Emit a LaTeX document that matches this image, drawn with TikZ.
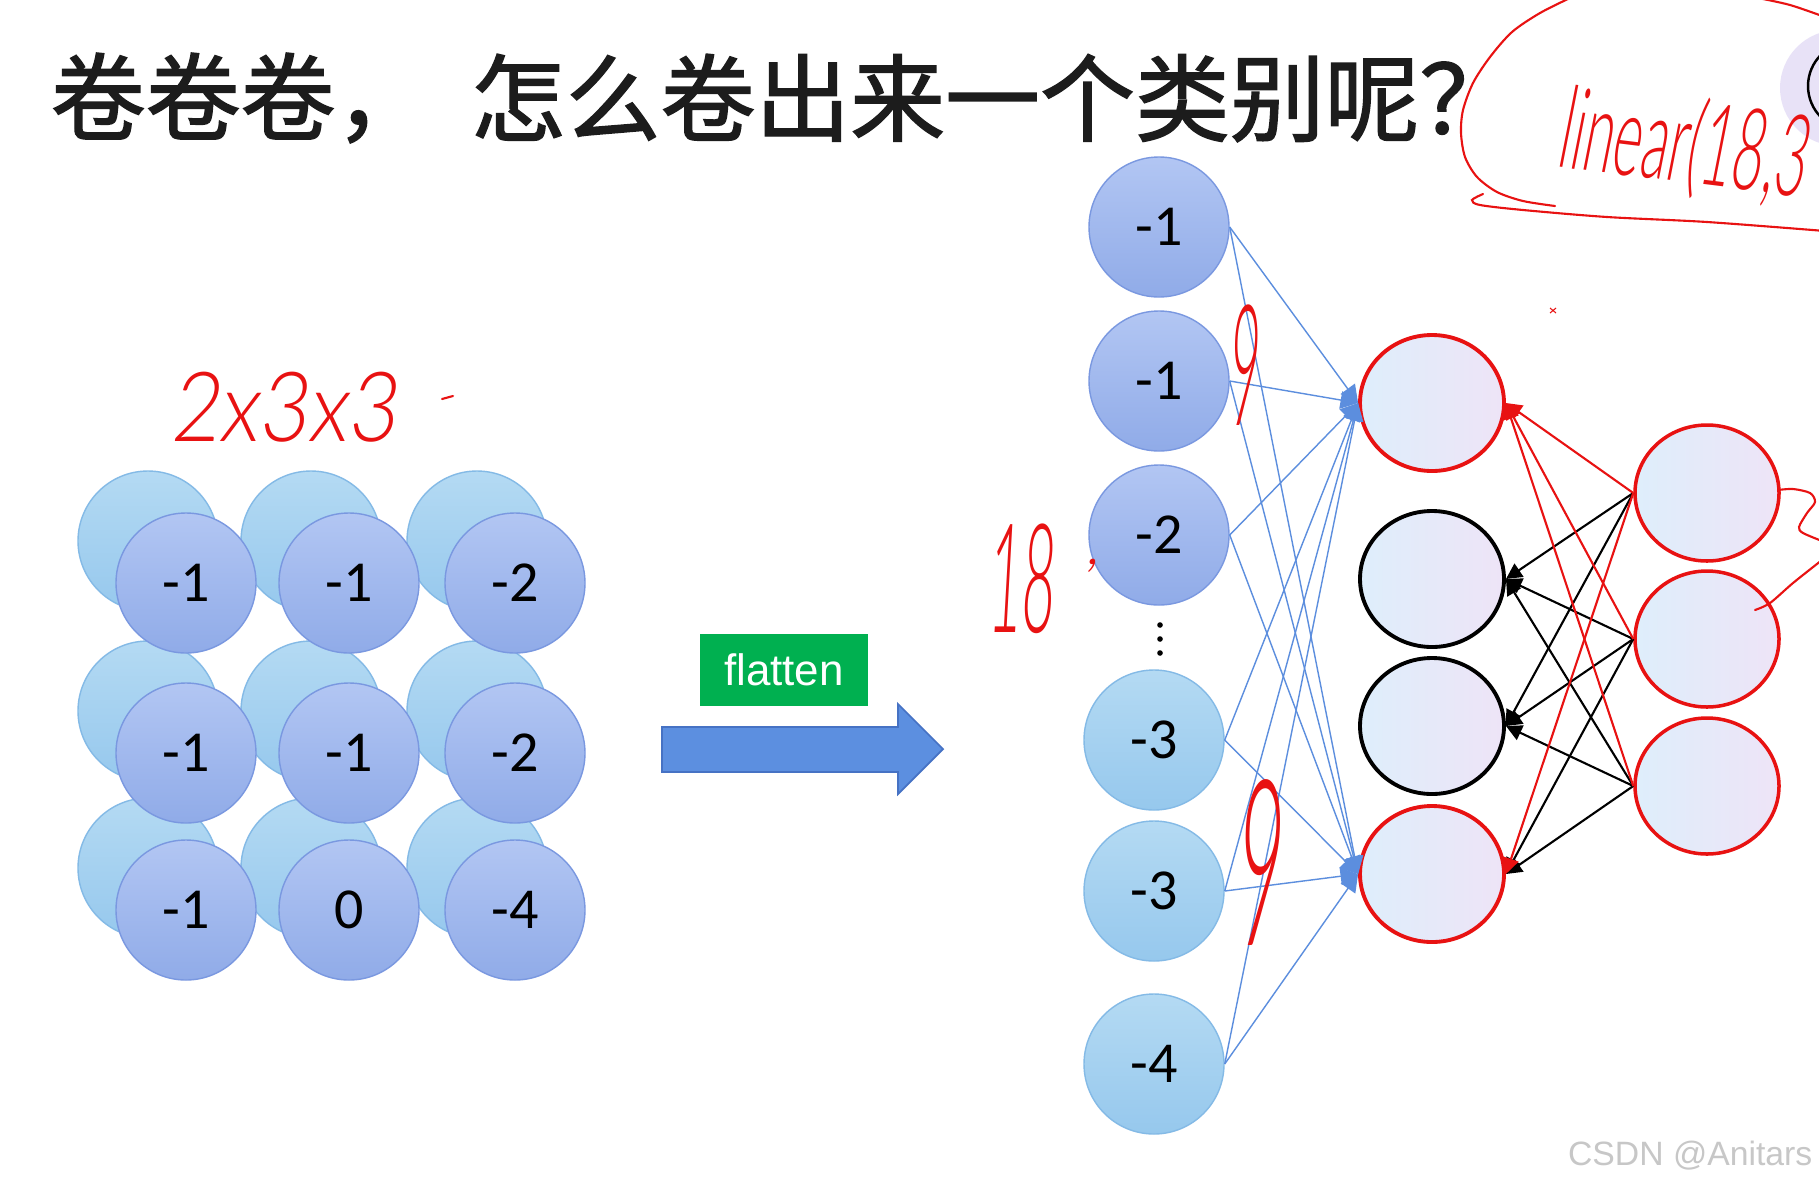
\documentclass[tikz,border=0pt]{standalone}
\usepackage{fontspec}
\usepackage{graphicx}
\usetikzlibrary{positioning, arrows.meta, shapes.geometric}
\setmainfont{Liberation Serif}
\newfontfamily\cjk{Noto Sans CJK SC}[FakeBold=1.5]
\newfontfamily\numfont{Carlito}
\newfontfamily\labelfont{Liberation Sans}
\IfFontExistsTF{Lato Light}
  {\newfontfamily\handfont{Lato Light}[FakeSlant=0.15]}
  {\IfFontExistsTF{Lato Thin}
     {\newfontfamily\handfont{Lato Thin}[FakeSlant=0.15, FakeBold=1]}
     {\newfontfamily\handfont{Liberation Sans}[FakeSlant=0.15]}}
\definecolor{titleInk}{RGB}{28, 28, 28}
\definecolor{frontTop}{RGB}{178, 198, 243}
\definecolor{frontBot}{RGB}{144, 171, 232}
\definecolor{frontEdge}{RGB}{122, 152, 224}
\definecolor{backTop}{RGB}{180, 218, 243}
\definecolor{backBot}{RGB}{150, 200, 237}
\definecolor{backEdge}{RGB}{132, 186, 230}
\definecolor{hidA}{RGB}{222, 238, 251}
\definecolor{hidB}{RGB}{238, 228, 247}
\definecolor{lineBlue}{RGB}{92, 142, 222}
\definecolor{inkRed}{RGB}{232, 18, 18}
\definecolor{flatGreen}{RGB}{0, 176, 80}
\definecolor{arrowBlue}{RGB}{92, 143, 224}
\definecolor{arrowEdge}{RGB}{70, 114, 196}
\definecolor{padLilac}{RGB}{232, 226, 247}

\begin{document}
\begin{tikzpicture}[
    back/.style={circle, minimum size=1.40cm, inner sep=0, draw=backEdge,
      line width=0.4pt, top color=backTop, bottom color=backBot},
    front/.style={circle, minimum size=1.40cm, inner sep=0, draw=frontEdge,
      line width=0.4pt, top color=frontTop, bottom color=frontBot,
      font=\numfont\fontsize{16.5}{18}\selectfont},
    sky/.style={front, draw=backEdge, top color=backTop, bottom color=backBot},
    neuron/.style={ellipse, minimum width=1.44cm, minimum height=1.36cm,
      inner sep=0, left color=hidA, right color=hidB, line width=1.1pt},
    inedge/.style={color=lineBlue, line width=0.4pt,
      -{Triangle[length=5pt, width=5pt]}},
    redge/.style={color=inkRed, line width=0.6pt,
      -{Triangle[length=4.5pt, width=4.5pt]}},
    bedge/.style={color=black, line width=0.6pt,
      -{Triangle[length=4.5pt, width=4.5pt]}},
    hand/.style={text=inkRed, inner sep=0},
    pen/.style={inkRed, line width=0.6pt, line cap=round}
  ]
  \path[use as bounding box] (0,0) rectangle (18.19,-11.86);
  \clip (0,0) rectangle (18.19,-11.86);
  \fill[white] (0,0) rectangle (18.19,-11.86);

  %% ── title ───────────────────────────────────────────────────────
  \node[anchor=west, inner sep=0, text=titleInk,
        font=\cjk\fontsize{27}{30}\selectfont] (title1) at (0.50,-0.98) {卷卷卷，};
  \node[anchor=west, inner sep=0, text=titleInk,
        font=\cjk\fontsize{27}{30}\selectfont] (title2) at (4.70,-0.98) {怎么卷出来一个类别呢？};

  %% ── 2x3x3 feature map (left) ────────────────────────────────────
  % back layer first, offset up-left
  \foreach \x/\y [count=\k] in {1.86/5.83, 3.49/5.83, 5.15/5.83,
                                1.86/7.53, 3.49/7.53, 5.15/7.53,
                                1.86/9.10, 3.49/9.10, 5.15/9.10}
    \node[back] (b\k) at (\x-0.38,-\y+0.42) {};
  % front layer with values
  \foreach \x/\y/\v [count=\k] in {1.86/5.83/-1, 3.49/5.83/-1, 5.15/5.83/-2,
                                   1.86/7.53/-1, 3.49/7.53/-1, 5.15/7.53/-2,
                                   1.86/9.10/-1, 3.49/9.10/0,  5.15/9.10/-4}
    \node[front] (f\k) at (\x,-\y) {\v};

  %% ── flatten ─────────────────────────────────────────────────────
  \node[fill=flatGreen, minimum width=1.68cm, minimum height=0.72cm, text=white,
        font=\labelfont\fontsize{12.5}{14}\selectfont] (flat) at (7.84,-6.70) {flatten};
  \fill[arrowBlue, draw=arrowEdge, line width=0.5pt]
    (6.62,-7.27) -- (8.98,-7.27) -- (8.98,-7.04) -- (9.43,-7.49)
    -- (8.98,-7.94) -- (8.98,-7.72) -- (6.62,-7.72) -- cycle;

  %% ── input column ────────────────────────────────────────────────
  \node[front] (in1) at (11.59,-2.27) {-1};
  \node[front] (in2) at (11.59,-3.81) {-1};
  \node[front] (in3) at (11.59,-5.35) {-2};
  \node[sky]   (in4) at (11.54,-7.40) {-3};
  \node[sky]   (in5) at (11.54,-8.91) {-3};
  \node[sky]   (in6) at (11.54,-10.64) {-4};
  \foreach \d in {6.25,6.39,6.53}
    \fill (11.60,-\d) circle (0.028);

  %% ── hidden + output layers ──────────────────────────────────────
  \node[neuron, draw=inkRed] (hid1) at (14.32,-4.03) {};
  \node[neuron, draw=black]  (hid2) at (14.32,-5.79) {};
  \node[neuron, draw=black]  (hid3) at (14.32,-7.26) {};
  \node[neuron, draw=inkRed] (hid4) at (14.32,-8.74) {};
  \node[neuron, draw=inkRed, line width=1pt] (out1) at (17.07,-4.93) {};
  \node[neuron, draw=inkRed, line width=1pt] (out2) at (17.07,-6.39) {};
  \node[neuron, draw=inkRed, line width=1pt] (out3) at (17.07,-7.86) {};

  % input -> hidden
  \foreach \i in {1,...,6} {
    \draw[inedge] (in\i.east) -- (hid1.west);
    \draw[inedge] (in\i.east) -- (hid4.west);
  }
  % output -> hidden
  \foreach \o in {1,2,3}
    \foreach \h in {2,3}
      \draw[bedge] (out\o.west) -- (hid\h.east);
  \draw[bedge] (out2.west) -- (hid4.east);
  \draw[bedge] (out3.west) -- (hid4.east);
  \foreach \o in {1,2,3}
    \draw[redge] (out\o.west) -- (hid1.east);
  \draw[redge] (out1.west) -- (hid4.east);

  %% ── top-right pad (cut off) ─────────────────────────────────────
  \fill[padLilac] (18.38,-0.88) circle (0.58);
  \draw[black, line width=0.7pt] (18.52,-0.86) circle (0.44);

  %% ── handwritten notes ───────────────────────────────────────────
  \node[hand, font=\handfont\fontsize{24}{26}\selectfont] (dims) at (2.83,-4.07)
    {\scalebox{1}[1.15]{2x3x3}};
  \draw[pen] (4.42,-3.99) -- (4.53,-3.96);
  \node[hand, font=\handfont\fontsize{16}{18}\selectfont] (nin) at (10.20,-5.79)
    {\scalebox{1}[2.7]{18}};
  \node[hand, font=\handfont\fontsize{18}{20}\selectfont] (nincomma) at (10.92,-5.66) {,};
  \node[hand, font=\handfont\fontsize{16}{18}\selectfont] (nine1) at (12.43,-3.65)
    {\scalebox{0.9}[3.0]{9}};
  \node[hand, font=\handfont\fontsize{22}{24}\selectfont] (nine2) at (12.58,-8.62)
    {\scalebox{1}[3.0]{9}};
  \node[hand, rotate=-7, font=\handfont\fontsize{15.5}{18}\selectfont] (lin) at (16.83,-1.46)
    {\scalebox{1}[2.1]{linear(18,3}};
  % loop round the note
  \draw[pen] plot[smooth] coordinates {(15.70,0.02) (15.40,-0.13) (15.12,-0.32)
    (14.90,-0.57) (14.73,-0.83) (14.63,-1.10) (14.61,-1.33) (14.65,-1.57)
    (14.77,-1.77) (14.97,-1.92) (15.23,-2.01) (15.55,-2.06)};
  \draw[pen] plot[smooth] coordinates {(14.83,-1.94) (14.72,-2.00) (14.80,-2.05)
    (15.23,-2.10) (16.07,-2.17) (17.07,-2.22) (18.25,-2.31)};
  \draw[pen] plot[smooth] coordinates {(17.58,0.02) (17.90,-0.05) (18.25,-0.17)};
  % squiggle off output 1
  \draw[pen] plot[smooth] coordinates {(17.78,-4.90) (17.93,-4.89) (18.10,-4.93)
    (18.15,-5.02) (18.07,-5.13) (17.99,-5.27) (18.03,-5.33) (18.22,-5.41)};
  \draw[pen] plot[smooth] coordinates {(18.22,-5.60) (17.93,-5.83) (17.70,-6.03)
    (17.55,-6.10)};
  \draw[inkRed, line width=0.3pt] (15.50,-3.08) -- (15.56,-3.13)
    (15.50,-3.13) -- (15.56,-3.08);

  %% ── watermark ───────────────────────────────────────────────────
  \node[anchor=base east, inner sep=0, text=black!22,
        font=\labelfont\fontsize{9.6}{11}\selectfont] (mark) at (18.13,-11.65) {CSDN @Anitars};
\end{tikzpicture}
\end{document}
